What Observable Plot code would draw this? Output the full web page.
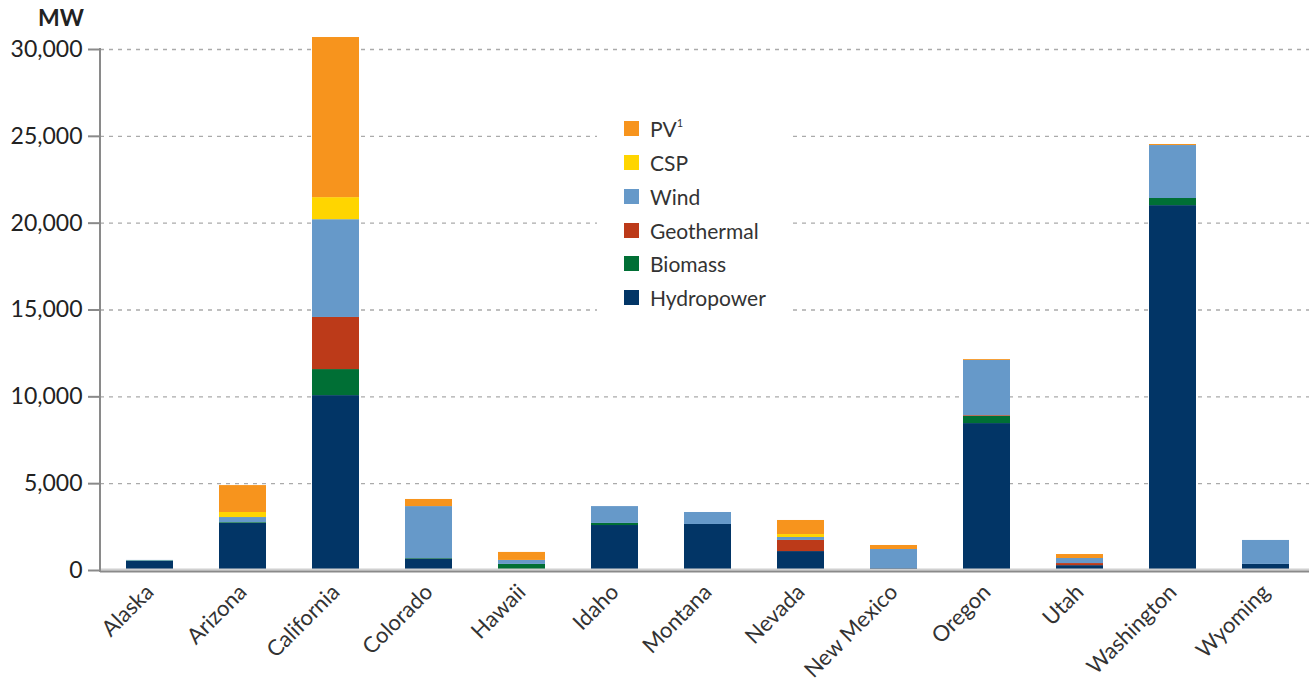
<!DOCTYPE html>
<html>
<head>
<meta charset="utf-8">
<script src="https://cdn.jsdelivr.net/npm/d3@7"></script>
<script src="https://cdn.jsdelivr.net/npm/@observablehq/plot@0.6"></script>
<style>
  body { margin: 0; background: #fff; font-family: Lato, "Open Sans", sans-serif; }
  #wrap { position: relative; width: 1309px; height: 682px; }
  #mw { position: absolute; left: 38px; top: 3px; font-size: 23px; font-weight: 700; color: #222; }
  #legend { position: absolute; left: 597px; top: 110px; width: 196px; height: 205px; background: #fff; }
  .item { position: absolute; left: 27px; height: 20px; display: flex; align-items: center; font-size: 21px; color: #333; white-space: nowrap; }
  .sw { width: 15px; height: 15px; margin-right: 11px; flex: none; }
  .item sup { font-size: 11px; position: relative; top: -2px; }
</style>
</head>
<body>
<div id="wrap">
  <div id="chart"></div>
  <div id="mw">MW</div>
  <div id="legend"></div>
</div>
<script>
// ---- data (MW) ----
const states = ["Alaska","Arizona","California","Colorado","Hawaii","Idaho","Montana","Nevada","New Mexico","Oregon","Utah","Washington","Wyoming"];
const hydropower = [520, 2720, 10070, 660, 30, 2590, 2650, 1090, 110, 8460, 280, 21010, 350];
const biomass    = [30,  40,   1500,  30,  320, 120, 0,    0,    0,   420,  0,   410,   0];
const geothermal = [0,   0,    3000,  0,   0,   0,   0,    640,  0,   40,   120, 0,     0];
const wind       = [30,  290,  5630,  2990, 230, 970, 690, 170,  1100, 3180, 290, 3050, 1380];
const csp        = [0,   290,  1270,  0,   0,   0,   0,    170,  0,   0,    0,   0,     0];
const pv         = [0,   1550, 9220,  410, 460, 0,   0,    810,  230, 50,   230, 60,    0];

const seriesNames = ["Hydropower","Biomass","Geothermal","Wind","CSP","PV"];
const seriesColors = ["#023566","#006f35","#bc3a19","#6699c9","#ffd500","#f7941d"];
const seriesValues = [hydropower, biomass, geothermal, wind, csp, pv];
const yTicks = [0, 5000, 10000, 15000, 20000, 25000, 30000];

const data = [];
seriesNames.forEach((s, j) => states.forEach((st, i) => data.push({state: st, source: s, value: seriesValues[j][i]})));

const yAxisLine = (index, scales, values, dims) => {
  const line = d3.create("svg:line")
    .attr("x1", dims.marginLeft).attr("x2", dims.marginLeft)
    .attr("y1", scales.y(30000) - 1).attr("y2", scales.y(0) + 2)
    .attr("stroke", "#8a8a8a").attr("stroke-width", 2);
  return line.node();
};

const chart = Plot.plot({
  width: 1309,
  height: 682,
  marginLeft: 100,
  marginRight: 0,
  marginTop: 49,
  marginBottom: 112,
  style: { fontFamily: "Lato, 'Open Sans', sans-serif", color: "#333", background: "#fff" },
  x: { domain: states, range: [100, 1315], paddingInner: 0.5, paddingOuter: 0.257, label: null },
  y: { domain: [0, 30000], label: null },
  color: { domain: seriesNames, range: seriesColors },
  marks: [
    Plot.gridY(yTicks.filter(d => d > 0), { stroke: "#aaa", strokeOpacity: 1, strokeWidth: 1.3, strokeDasharray: "4,5" }),
    Plot.barY(data, Plot.stackY({ order: seriesNames }, { x: "state", y: "value", fill: "source" })),
    Plot.ruleY([0], { stroke: "#d0d0d0", strokeWidth: 2, dy: -1 }),
    Plot.ruleY([0], { stroke: "#8a8a8a", strokeWidth: 2, dy: 1 }),
    yAxisLine,
    Plot.axisY({ ticks: yTicks, tickFormat: d3.format(","), tickSize: 12, tickPadding: 6, fontSize: 23, stroke: "#8a8a8a", strokeWidth: 2, color: "#222", label: null }),
    Plot.axisX({ tickSize: 0, tickPadding: 18, tickRotate: -45, fontSize: 22, label: null, color: "#333" })
  ]
});
document.getElementById("chart").appendChild(chart);

// legend (top-down: PV first)
const legend = document.getElementById("legend");
const rowTop = [8, 42, 76, 110, 143, 177];
[...seriesNames].reverse().forEach((name, k) => {
  const idx = seriesNames.indexOf(name);
  const item = document.createElement("div");
  item.className = "item";
  item.style.top = rowTop[k] + "px";
  const sw = document.createElement("div");
  sw.className = "sw";
  sw.style.background = seriesColors[idx];
  item.appendChild(sw);
  const label = document.createElement("span");
  if (name === "PV") { label.innerHTML = "PV<sup>1</sup>"; } else { label.textContent = name; }
  item.appendChild(label);
  legend.appendChild(item);
});
</script>
</body>
</html>
